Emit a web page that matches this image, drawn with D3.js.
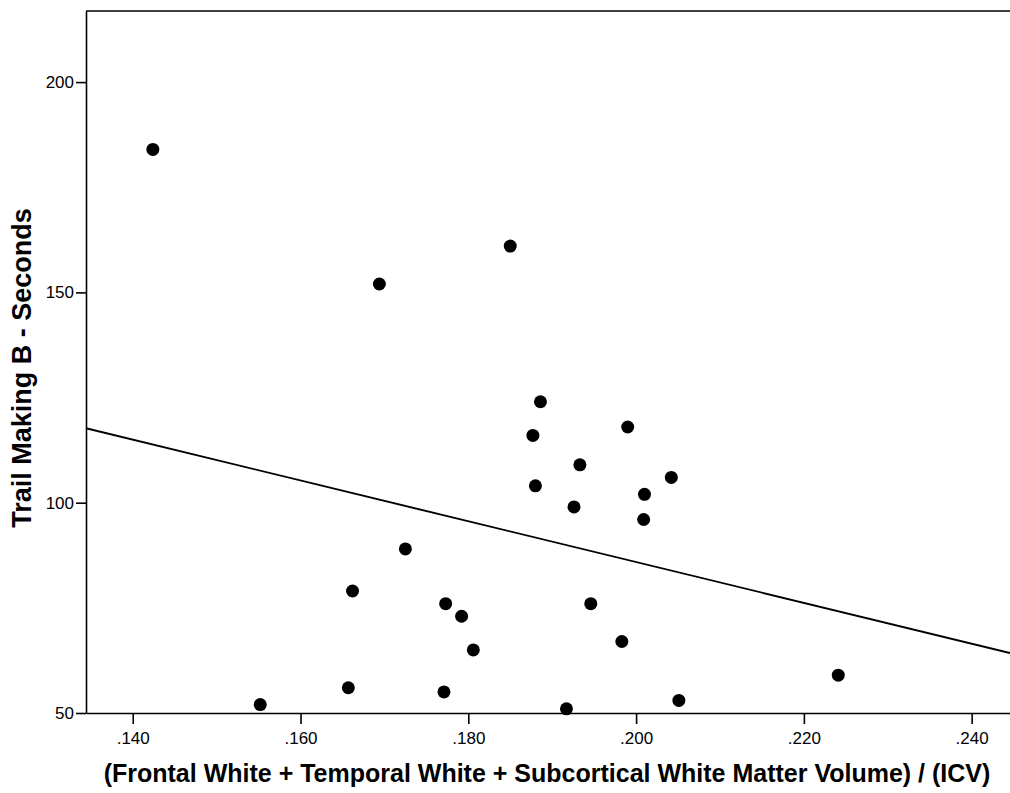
<!DOCTYPE html>
<html>
<head>
<meta charset="utf-8">
<script src="https://cdn.jsdelivr.net/npm/d3@7"></script>
<style>
  body { margin: 0; background: #fff; }
  svg { display: block; font-family: "Liberation Sans", Arial, sans-serif; }
</style>
</head>
<body>
<div id="chart"></div>
<script>
// white matter volume ratio vs trail making B time, one entry per subject
var volumeRatio = [
  .1424, .1850, .1694, .1886, .1877, .1990, .1933, .2042, .1880, .2010,
  .1926, .2009, .1725, .1662, .1773, .1792, .1806, .1657, .1771, .1552,
  .1946, .1983, .2241, .2051, .1917
];
var trailSeconds = [
  184, 161, 152, 124, 116, 118, 109, 106, 104, 102,
  99, 96, 89, 79, 76, 73, 65, 56, 55, 52,
  76, 67, 59, 53, 51
];
var xTicks = [.140, .160, .180, .200, .220, .240];
var yTicks = [50, 100, 150, 200];

var W = 1010, H = 793;
var plotL = 86, plotR = 1010, plotT = 11, plotB = 713;

var svg = d3.select("#chart").append("svg")
    .attr("width", W).attr("height", H);

var x = d3.scaleLinear().domain([.13443, .24457]).range([plotL, plotR]);
var y = d3.scaleLinear().domain([50, 216.9]).range([plotB, plotT]);

// least squares fit line
var mx = d3.mean(volumeRatio), my = d3.mean(trailSeconds);
var sxy = d3.sum(volumeRatio, function (v, i) { return (v - mx) * (trailSeconds[i] - my); });
var sxx = d3.sum(volumeRatio, function (v) { return (v - mx) * (v - mx); });
var slope = sxy / sxx, icept = my - slope * mx;

var xAxis = d3.axisBottom(x).tickValues(xTicks).tickSize(11).tickSizeOuter(0)
    .tickFormat(function (d) { return d3.format(".3f")(d).replace(/^0/, ""); });
var yAxis = d3.axisLeft(y).tickValues(yTicks).tickSize(10).tickSizeOuter(0);

var gx = svg.append("g").attr("transform", "translate(0," + plotB + ")").call(xAxis);
var gy = svg.append("g").attr("transform", "translate(" + plotL + ",0)").call(yAxis);

[gx, gy].forEach(function (g) {
  g.attr("font-family", null).attr("font-size", null);
  g.select(".domain").attr("stroke", "#000").attr("stroke-width", 1.6);
  g.selectAll(".tick line").attr("stroke", "#000").attr("stroke-width", 1.6);
  g.selectAll(".tick text").attr("fill", "#000").style("font-size", "17px");
});
gx.selectAll(".tick text").attr("dy", "0.71em").attr("y", 19);
gy.selectAll(".tick text").attr("x", -12);

// top frame line
svg.append("line")
    .attr("x1", plotL).attr("x2", plotR).attr("y1", plotT).attr("y2", plotT)
    .attr("stroke", "#000").attr("stroke-width", 1.6);

svg.append("line")
    .attr("x1", x(x.domain()[0])).attr("y1", y(icept + slope * x.domain()[0]))
    .attr("x2", x(x.domain()[1])).attr("y2", y(icept + slope * x.domain()[1]))
    .attr("stroke", "#000").attr("stroke-width", 1.9);

svg.append("g").selectAll("circle")
    .data(volumeRatio)
    .enter().append("circle")
    .attr("cx", function (d) { return x(d); })
    .attr("cy", function (d, i) { return y(trailSeconds[i]); })
    .attr("r", 6.5)
    .attr("fill", "#000");

svg.append("text")
    .attr("x", 547).attr("y", 782)
    .attr("text-anchor", "middle")
    .style("font-size", "25px").style("font-weight", "bold")
    .text("(Frontal White + Temporal White + Subcortical White Matter Volume) / (ICV)");

svg.append("text")
    .attr("transform", "translate(31,368) rotate(-90)")
    .attr("text-anchor", "middle")
    .style("font-size", "27px").style("font-weight", "bold")
    .text("Trail Making B - Seconds");
</script>
</body>
</html>
